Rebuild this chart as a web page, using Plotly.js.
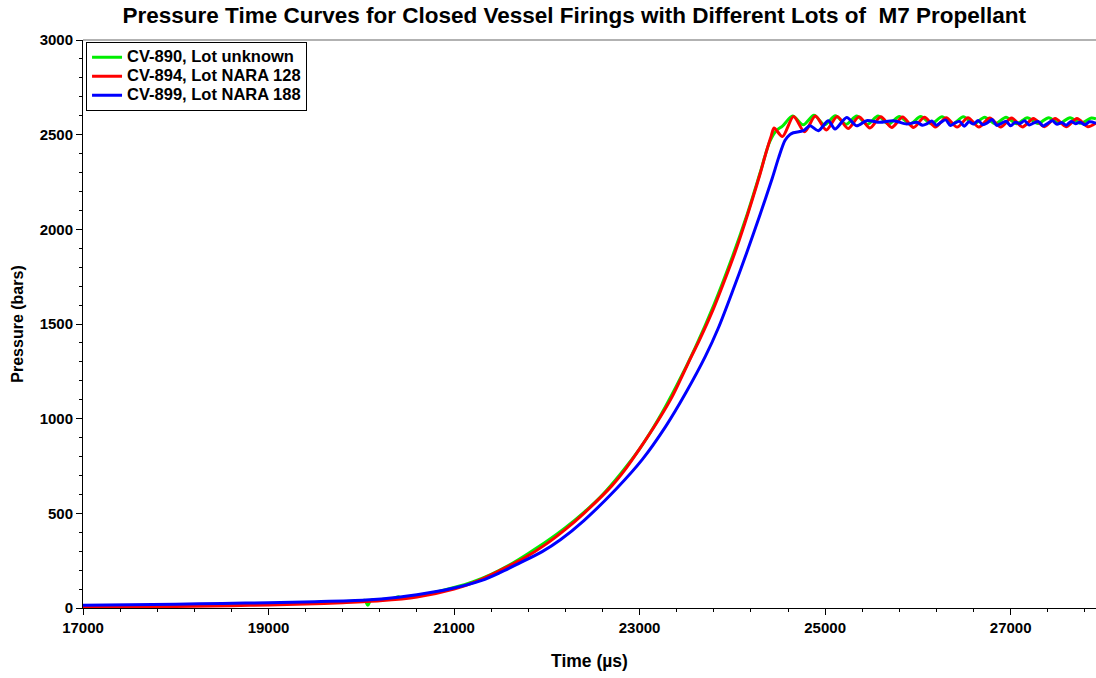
<!DOCTYPE html>
<html>
<head>
<meta charset="utf-8">
<script src="https://cdn.plot.ly/plotly-3.0.1.min.js"></script>
<style>html,body{margin:0;padding:0;background:#fff;}#chart{width:1096px;height:678px;}</style>
</head>
<body>
<div id="chart"></div>
<script>
// ---- Data (time in microseconds, pressure in bars) ----
const seriesNames = ["CV-890, Lot unknown", "CV-894, Lot NARA 128", "CV-899, Lot NARA 188"];

const timeGreen = [17000, 17400, 17800, 18200, 18600, 19000, 19400, 19800, 20000, 20040, 20070, 20100, 20200, 20350, 20400, 20430, 20600, 20800, 21000, 21200, 21400, 21600, 21800, 22000, 22200, 22400, 22600, 22800, 23000, 23200, 23400, 23600, 23800, 24000, 24150, 24300, 24400, 24470, 24540,
  24650, 24765, 24880, 24995, 25110, 25225, 25340, 25455, 25570, 25685, 25800, 25915, 26030, 26145, 26260, 26375, 26490, 26605, 26720, 26835, 26950, 27065, 27180, 27295, 27410, 27525, 27640, 27755, 27870, 27920];
const presGreen = [9, 11, 13, 16, 19, 23, 28, 34, 38, 40, 14, 40, 45, 52, 60, 53, 66, 84, 108, 138, 178, 228, 288, 352, 424, 505, 598, 712, 840, 995, 1175, 1375, 1600, 1855, 2065, 2300, 2460, 2520, 2545,
  2598, 2552, 2602, 2552, 2600, 2555, 2598, 2555, 2598, 2556, 2596, 2556, 2596, 2557, 2594, 2557, 2594, 2558, 2592, 2558, 2592, 2558, 2590, 2559, 2590, 2559, 2590, 2560, 2588, 2584];

const timeRed = [17000, 17400, 17800, 18200, 18600, 19000, 19400, 19800, 20200, 20600, 21000, 21250, 21500, 21750, 22000, 22200, 22400, 22700, 22850, 23000, 23200, 23350, 23550, 23650, 23800, 23920, 24030, 24130, 24220, 24300, 24360, 24420, 24450, 24540,
  24660, 24778, 24895, 25013, 25130, 25248, 25365, 25483, 25600, 25718, 25835, 25953, 26070, 26188, 26305, 26423, 26540, 26658, 26775, 26893, 27010, 27128, 27245, 27363, 27480, 27598, 27715, 27832, 27920];
const presRed = [4, 5, 7, 9, 12, 16, 21, 28, 38, 58, 100, 142, 200, 262, 340, 415, 500, 645, 735, 840, 990, 1115, 1320, 1420, 1585, 1735, 1880, 2025, 2165, 2295, 2400, 2495, 2535, 2490,
  2596, 2515, 2598, 2525, 2596, 2532, 2595, 2535, 2594, 2538, 2593, 2538, 2592, 2540, 2590, 2540, 2590, 2540, 2588, 2541, 2588, 2541, 2586, 2542, 2586, 2542, 2585, 2542, 2562];

const timeBlue = [17000, 17500, 18000, 18500, 19000, 19500, 20050, 20400, 20600, 20950, 21300, 21500, 21700, 21950, 22150, 22400, 22750, 23030, 23280, 23500, 23710, 23850, 24000, 24150, 24300, 24430, 24500, 24568, 24620, 24657, 24765, 24837, 24927, 25034, 25107, 25233, 25341, 25448, 25592, 25735, 25880, 25987, 26050,
  26100, 26150, 26200, 26250, 26300, 26350, 26400, 26450, 26500, 26550, 26600, 26650, 26700, 26750, 26800, 26850, 26900, 26950, 27000, 27050, 27100, 27150, 27200, 27250, 27300, 27350, 27400, 27450, 27500, 27550, 27600, 27650, 27700, 27750, 27800, 27850, 27920];
const presBlue = [14, 17, 20, 24, 28, 33, 42, 57, 70, 100, 146, 188, 236, 298, 362, 462, 630, 785, 958, 1138, 1330, 1480, 1670, 1870, 2080, 2270, 2380, 2470, 2500, 2510, 2521, 2547, 2521, 2574, 2530, 2591, 2547, 2574, 2565, 2574, 2556, 2565, 2550,
  2558, 2572, 2550, 2566, 2578, 2548, 2562, 2570, 2545, 2568, 2556, 2575, 2552, 2563, 2580, 2549, 2560, 2571, 2547, 2566, 2558, 2574, 2551, 2562, 2569, 2546, 2560, 2573, 2555, 2564, 2550, 2570, 2558, 2566, 2552, 2568, 2560];

const xTickVals = [17000, 19000, 21000, 23000, 25000, 27000];
const yTickVals = [0, 500, 1000, 1500, 2000, 2500, 3000];

// ---- Chart ----
const FONT = "Liberation Sans, Arial, sans-serif";
const colors = ["#00ee00", "#ff0000", "#0000ff"];
const times = [timeGreen, timeRed, timeBlue];
const pres = [presGreen, presRed, presBlue];

const traces = seriesNames.map((n, i) => ({
  type: "scatter", mode: "lines",
  name: '<span style="font-size:16.5px"><b>' + n + '</b></span>',
  x: times[i], y: pres[i],
  line: {color: colors[i], width: 3, shape: "spline", smoothing: 0.8}
}));

const layout = {
  width: 1096, height: 678,
  margin: {l: 83, r: 0, t: 40, b: 70},
  paper_bgcolor: "#fff", plot_bgcolor: "#fff",
  font: {family: FONT, color: "#000"},
  title: {
    text: "<b>Pressure Time Curves for Closed Vessel Firings with Different Lots of  M7 Propellant</b>",
    font: {family: FONT, size: 22.5, color: "#000"},
    xref: "container", x: 0.524, xanchor: "center",
    yref: "container", y: 0.978, yanchor: "middle"
  },
  xaxis: {
    range: [17000, 27920], autorange: false,
    tickmode: "array", tickvals: xTickVals, ticktext: xTickVals.map(v => "<b>" + v + "</b>"),
    ticks: "outside", ticklen: 6, tickwidth: 1, tickcolor: "#000",
    minor: {ticks: "outside", dtick: 400, tick0: 17000, ticklen: 3, tickwidth: 1, tickcolor: "#000", showgrid: false},
    showline: true, linecolor: "#000", linewidth: 1,
    showgrid: false, zeroline: false,
    tickfont: {family: FONT, size: 15, color: "#000"},
    title: {text: "<b>Time (µs)</b>", font: {family: FONT, size: 17.5, color: "#000"}, standoff: 19}
  },
  yaxis: {
    range: [0, 3000], autorange: false,
    tickmode: "array", tickvals: yTickVals, ticktext: yTickVals.map(v => "<b>" + v + "</b>"),
    ticks: "outside", ticklen: 6, tickwidth: 1, tickcolor: "#000",
    minor: {ticks: "outside", dtick: 100, tick0: 0, ticklen: 3, tickwidth: 1, tickcolor: "#000", showgrid: false},
    showline: true, linecolor: "#000", linewidth: 1,
    showgrid: false, zeroline: false,
    tickfont: {family: FONT, size: 15, color: "#000"},
    title: {text: "<b>Pressure (bars)</b>", font: {family: FONT, size: 16, color: "#000"}, standoff: 12}
  },
  shapes: [
    {type: "line", xref: "paper", yref: "paper", x0: 0, x1: 1, y0: 1, y1: 1, line: {color: "#999", width: 1.5}}
  ],
  legend: {
    x: 0.003, y: 0.997, xanchor: "left", yanchor: "top",
    bgcolor: "#fff", bordercolor: "#000", borderwidth: 1,
    font: {family: FONT, size: 11.5, color: "#000"},
    tracegroupgap: 0, itemwidth: 30
  },
  showlegend: true
};

Plotly.newPlot("chart", traces, layout, {displayModeBar: false, staticPlot: true});
</script>
</body>
</html>
